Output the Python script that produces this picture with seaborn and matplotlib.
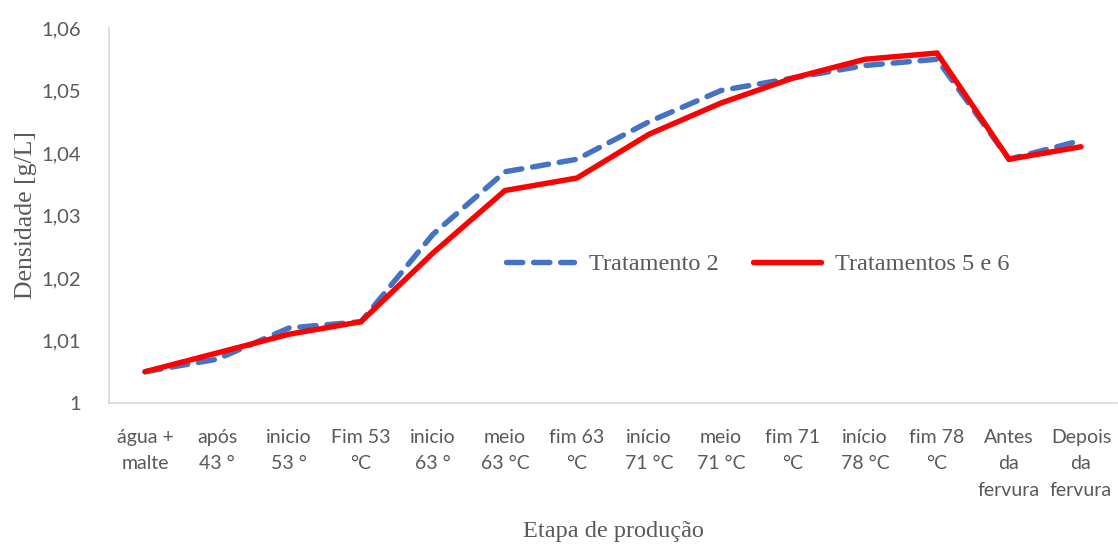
import matplotlib
matplotlib.use("Agg")
import matplotlib.pyplot as plt
import seaborn as sns
import pandas as pd
import numpy as np

# Production stages (x categories)
etapas = [
    "água +\nmalte", "após\n43 °", "inicio\n53 °", "Fim 53\n°C", "inicio\n63 °",
    "meio\n63 °C", "fim 63\n°C", "início\n71 °C", "meio\n71 °C", "fim 71\n°C",
    "início\n78 °C", "fim 78\n°C", "Antes\nda\nfervura", "Depois\nda\nfervura",
]

# Density readings for each treatment
tratamento_2 = [1.005, 1.007, 1.012, 1.013, 1.027, 1.037, 1.039,
                1.045, 1.050, 1.052, 1.054, 1.055, 1.039, 1.042]
tratamentos_5_6 = [1.005, 1.008, 1.011, 1.013, 1.024, 1.034, 1.036,
                   1.043, 1.048, 1.052, 1.055, 1.056, 1.039, 1.041]

y_ticks = [1.00, 1.01, 1.02, 1.03, 1.04, 1.05, 1.06]
y_tick_labels = ["1", "1,01", "1,02", "1,03", "1,04", "1,05", "1,06"]

series_names = ["Tratamento 2", "Tratamentos 5 e 6"]

df = pd.DataFrame({
    "pos": list(range(len(etapas))) * 2,
    "densidade": tratamento_2 + tratamentos_5_6,
    "serie": [series_names[0]] * len(etapas) + [series_names[1]] * len(etapas),
})

sns.set_theme(style="white")
grey = "#595959"
tick_font = "Lato"
title_font = "Liberation Serif"

fig = plt.figure(figsize=(11.18, 5.45), dpi=100)
ax = fig.add_axes([0.0975, 0.2606, 0.9016, 0.688])

ax = sns.lineplot(
    data=df, x="pos", y="densidade", hue="serie", style="serie",
    palette={series_names[0]: "#4472C4", series_names[1]: "#FF0000"},
    dashes={series_names[0]: (3.0, 2.0), series_names[1]: ""},
    linewidth=3.9, sort=False, ax=ax,
)
for line in ax.lines:
    line.set_dash_capstyle("round")
    line.set_solid_capstyle("round")
    line.set_solid_joinstyle("miter")

ax.set_xlim(-0.5, len(etapas) - 0.5)
ax.set_ylim(1.0, 1.06)
ax.set_xticks(range(len(etapas)))
ax.set_xticklabels(etapas, fontsize=14, color=grey, family=tick_font, linespacing=1.65)
ax.set_yticks(y_ticks)
ax.set_yticklabels(y_tick_labels, fontsize=14.5, color=grey, family=tick_font)
ax.tick_params(axis="x", length=0, pad=19)
ax.tick_params(axis="y", length=0, pad=20)

for side in ["top", "right"]:
    ax.spines[side].set_visible(False)
for side in ["left", "bottom"]:
    ax.spines[side].set_color("#D9D9D9")
    ax.spines[side].set_linewidth(1.2)

ax.set_xlabel("Etapa de produção", fontsize=17.5, color=grey, family=title_font, labelpad=16)
ax.set_ylabel("Densidade [g/L]", fontsize=18.5, color=grey, family=title_font, labelpad=3)

leg = ax.legend(
    loc="center", bbox_to_anchor=(0.644, 0.37), ncol=2, frameon=False,
    prop={"family": title_font, "size": 17.5}, handlelength=2.8,
    columnspacing=1.4, handletextpad=0.6,
)
for t in leg.get_texts():
    t.set_color(grey)
leg.set_title(None)

fig.savefig("out.png", dpi=100, facecolor="white")
